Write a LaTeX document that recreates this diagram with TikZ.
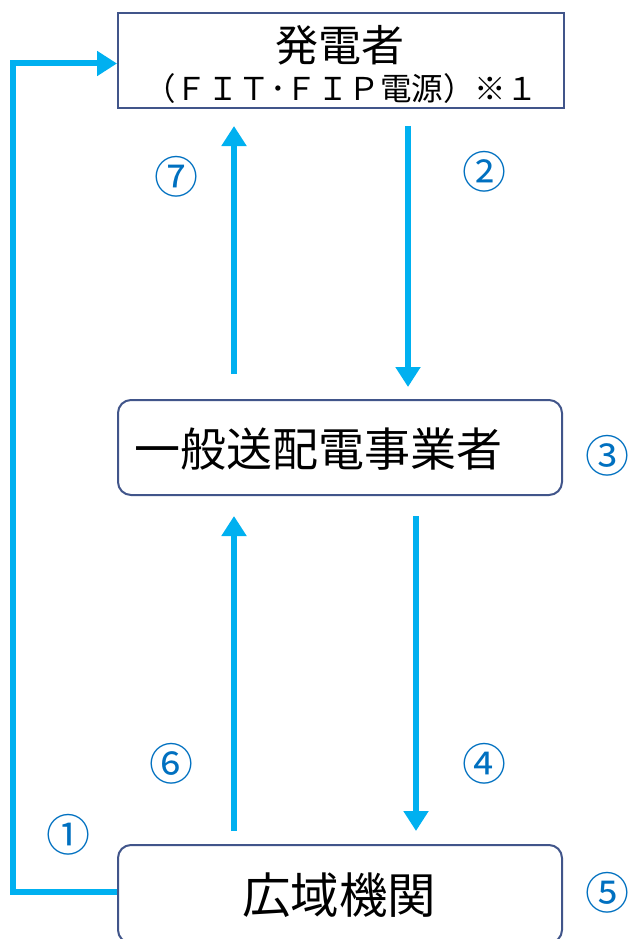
\documentclass[tikz,border=0pt]{standalone}
\usepackage{fontspec}
\setmainfont{Noto Sans CJK JP}
\usetikzlibrary{arrows.meta}
\definecolor{arrowblue}{HTML}{00B0F0}
\definecolor{numblue}{HTML}{0070C0}
\definecolor{boxline}{HTML}{41558A}
\begin{document}
\begin{tikzpicture}[x=1pt,y=-1pt,
  box/.style={draw=boxline,line width=2pt,fill=white,inner sep=0pt,minimum width=446pt,minimum height=95pt},
  arr/.style={draw=arrowblue,line width=6pt,-{Triangle[length=20pt,width=24pt]}},
  num/.style={text=numblue,font=\fontsize{44}{48}\selectfont,inner sep=0pt},
  lab/.style={inner sep=0pt}]
\useasboundingbox (0,0) rectangle (631,939);
\begin{scope}
\clip (0,0) rectangle (631,939);
% boxes
\node[box] (top) at (341,60.5) {};
\node[box,rounded corners=13pt,minimum width=444pt] (mid) at (340,447.5) {};
\node[box,rounded corners=13pt,minimum width=444pt,minimum height=98pt] (bot) at (340,894) {};
\end{scope}
% texts
\node[lab,font=\fontsize{43}{46}\selectfont] (t1) at (340,45) {発電者};
\node[lab,font=\fontsize{31.5}{34}\selectfont] (t2) at (341,89) {（ＦＩＴ･ＦＩＰ電源）※１};
\node[lab,font=\fontsize{46}{50}\selectfont] (t3) at (318,449) {一般送配電事業者};
\node[lab,font=\fontsize{48.5}{52}\selectfont] (t4) at (339,895) {広域機関};
% x positions
\coordinate (xa) at (234,0);
\coordinate (xb) at (408,0);
\coordinate (xc) at (416,0);
\coordinate (xl) at (13,0);
% arrows
\draw[arr,shorten <=25pt,shorten >=17pt] (mid.north -| xa) -- (top.south -| xa);
\draw[arr,shorten <=17pt,shorten >=12pt] (top.south -| xb) -- (mid.north -| xb);
\draw[arr,shorten <=13pt,shorten >=20pt] (bot.north -| xa) -- (mid.south -| xa);
\draw[arr,shorten <=20pt,shorten >=13pt] (mid.south -| xc) -- (bot.north -| xc);
\draw[arr] ([yshift=2pt]bot.west) -- ([yshift=2pt]bot.west -| xl) |- ([yshift=-3pt]top.west);
% numbers
\node[num] (n7) at (176,177) {⑦};
\node[num] (n2) at (484,172) {②};
\node[num] (n3) at (607,456) {③};
\node[num] (n6) at (171,764) {⑥};
\node[num] (n4) at (484,764) {④};
\node[num] (n1) at (68,835) {①};
\node[num] (n5) at (607,893) {⑤};
\end{tikzpicture}
\end{document}
